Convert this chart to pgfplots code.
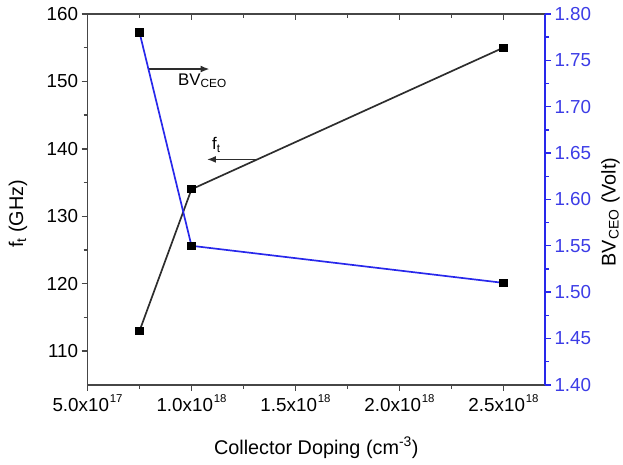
\documentclass[border=0pt]{standalone}
\usepackage{fontspec}
\setmainfont{Liberation Sans}
\usepackage{pgfplots}
\pgfplotsset{compat=1.18}
\usetikzlibrary{arrows.meta}
\definecolor{axgray}{RGB}{70,70,70}
\definecolor{bvblue}{RGB}{40,40,235}
\definecolor{tickblue}{RGB}{60,60,230}
\definecolor{ftline}{RGB}{45,45,45}
% raised exponent for the doping tick labels
\newcommand{\ex}[1]{\kern0.8bp\raisebox{9bp}{\fontsize{11.5}{12}\selectfont #1}}

\begin{document}
\begin{tikzpicture}
\pgfplotsset{
  common/.style={
    scale only axis, width=460bp, height=373bp,
    xmin=0.5, xmax=2.7,
    xtick={0.5,1,1.5,2,2.5}, minor xtick={0.75,1.25,1.75,2.25},
    major tick length=6bp, minor tick length=4bp,
    every tick/.style={axgray, line width=1.4bp},
    axis line style={-, axgray, line width=1.6bp},
    ticklabel style={font=\fontsize{19}{21}\selectfont},
    label style={font=\fontsize{20}{22}\selectfont},
    /pgf/number format/assume math mode=true,
    clip=false,
  }
}
% collector doping in units of 1e18 cm^-3
\begin{axis}[common, name=main,
  axis x line*=bottom, axis y line*=left, tick align=outside,
  ymin=105, ymax=160, ytick={110,120,...,160}, minor ytick={115,125,...,155},
  xticklabels={5.0x10\ex{17},1.0x10\ex{18},1.5x10\ex{18},2.0x10\ex{18},2.5x10\ex{18}},
  xlabel={Collector Doping (cm\textsuperscript{-3})},
  ylabel={f\textsubscript{t} (GHz)},
  xlabel style={at={(axis description cs:0.5,-0.169)}, anchor=center},
  ylabel style={at={(axis description cs:-0.152,0.461)}, anchor=center},
]
\addplot[ftline, line width=1.7bp, mark=square*, mark size=3.3bp, mark options={black}]
  coordinates {(0.75,113) (1.0,134) (2.5,155)};
\draw[ftline, line width=1.7bp, -{Latex[length=9bp,width=7bp]}]
  (axis cs:0.797,151.83) -- (axis cs:1.087,151.83);
\node[anchor=base west, inner sep=0pt, font=\fontsize{17}{19}\selectfont]
  at (axis cs:0.935,149.4) {BV\textsubscript{CEO}};
\draw[ftline, line width=1.7bp, -{Latex[length=9bp,width=7bp]}]
  (axis cs:1.313,138.43) -- (axis cs:1.074,138.43);
\node[anchor=base west, inner sep=0pt, font=\fontsize{17}{19}\selectfont]
  at (axis cs:1.098,139.9) {f\textsubscript{t}};
\end{axis}

% top frame with inward ticks
\begin{axis}[common,
  axis x line*=top, axis y line=none, tick align=inside,
  xticklabels={}, ymin=0, ymax=1,
]
\end{axis}

% breakdown voltage on the right axis
\begin{axis}[common,
  axis x line=none, axis y line*=right, tick align=outside,
  ymin=1.4, ymax=1.8, ytick={1.40,1.45,...,1.80},
  minor ytick={1.425,1.475,...,1.775},
  y axis line style={bvblue},
  ytick style={bvblue},
  yticklabel style={tickblue, /pgf/number format/.cd, fixed, fixed zerofill, precision=2},
  ylabel={BV\textsubscript{CEO} (Volt)},
  ylabel style={at={(axis description cs:1.143,0.466)}, anchor=center, black},
]
\addplot[bvblue, line width=1.7bp, mark=square*, mark size=3.3bp, mark options={black}]
  coordinates {(0.75,1.78) (1.0,1.55) (2.5,1.51)};
\end{axis}

\path ([shift={(-88bp,-80bp)}]main.south west) rectangle ([shift={(75bp,14bp)}]main.north east);
\end{tikzpicture}
\end{document}
